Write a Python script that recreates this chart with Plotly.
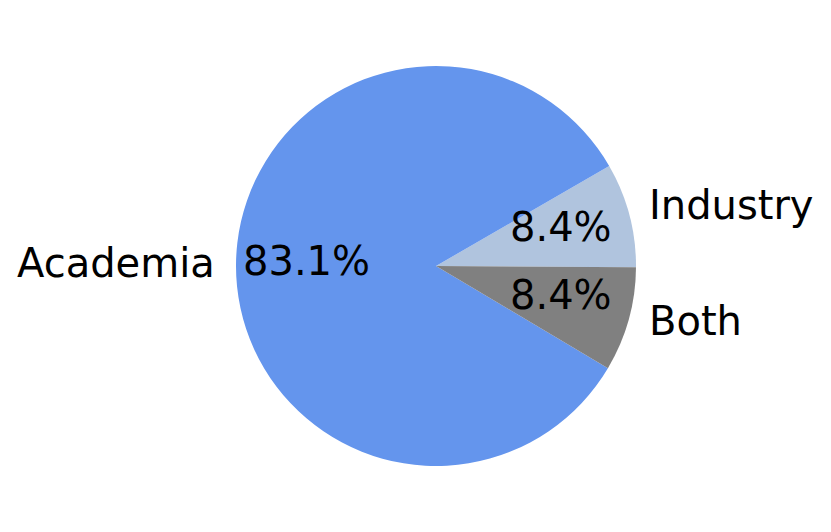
import math
import plotly.graph_objects as go

labels = ["Industry", "Academia", "Both"]
values = [7, 69, 7]
colors = ["#B0C4DE", "#6495ED", "#808080"]

W, H = 831, 532
cx, cy, R = 428, 258, 200
FONT = "DejaVu Sans"
FS = 40

fig = go.Figure(go.Pie(
    labels=labels, values=values, sort=False, direction="counterclockwise",
    rotation=60, marker=dict(colors=colors, line=dict(width=0)),
    textinfo="none", hoverinfo="label+percent", showlegend=False,
    domain=dict(x=[(cx - R) / W, (cx + R) / W], y=[(H - cy - R) / H, (H - cy + R) / H]),
))

total = sum(values)
ann = []
start = 0.0
for lab, v in zip(labels, values):
    frac = v / total
    mid = math.radians((start + frac / 2) * 360)
    start += frac
    c, s = math.cos(mid), math.sin(mid)
    lx, ly = cx + 1.095 * R * c, cy - 1.1 * R * s
    ann.append(dict(x=lx / W, y=1 - ly / H, xref="paper", yref="paper", text=lab,
                    showarrow=False, xanchor="left" if c > 0 else "right", yanchor="middle",
                    yshift=3, font=dict(family=FONT, size=FS, color="black")))
    px, py = cx + 0.65 * R * c, cy - 0.65 * R * s
    ann.append(dict(x=px / W, y=1 - py / H, xref="paper", yref="paper", text=f"{frac*100:.1f}%",
                    showarrow=False, xanchor="center", yanchor="middle",
                    yshift=5, font=dict(family=FONT, size=FS, color="black")))

fig.update_layout(width=W, height=H, margin=dict(l=0, r=0, t=0, b=0),
                  paper_bgcolor="white", plot_bgcolor="white", annotations=ann)
fig.write_html("out.html")
